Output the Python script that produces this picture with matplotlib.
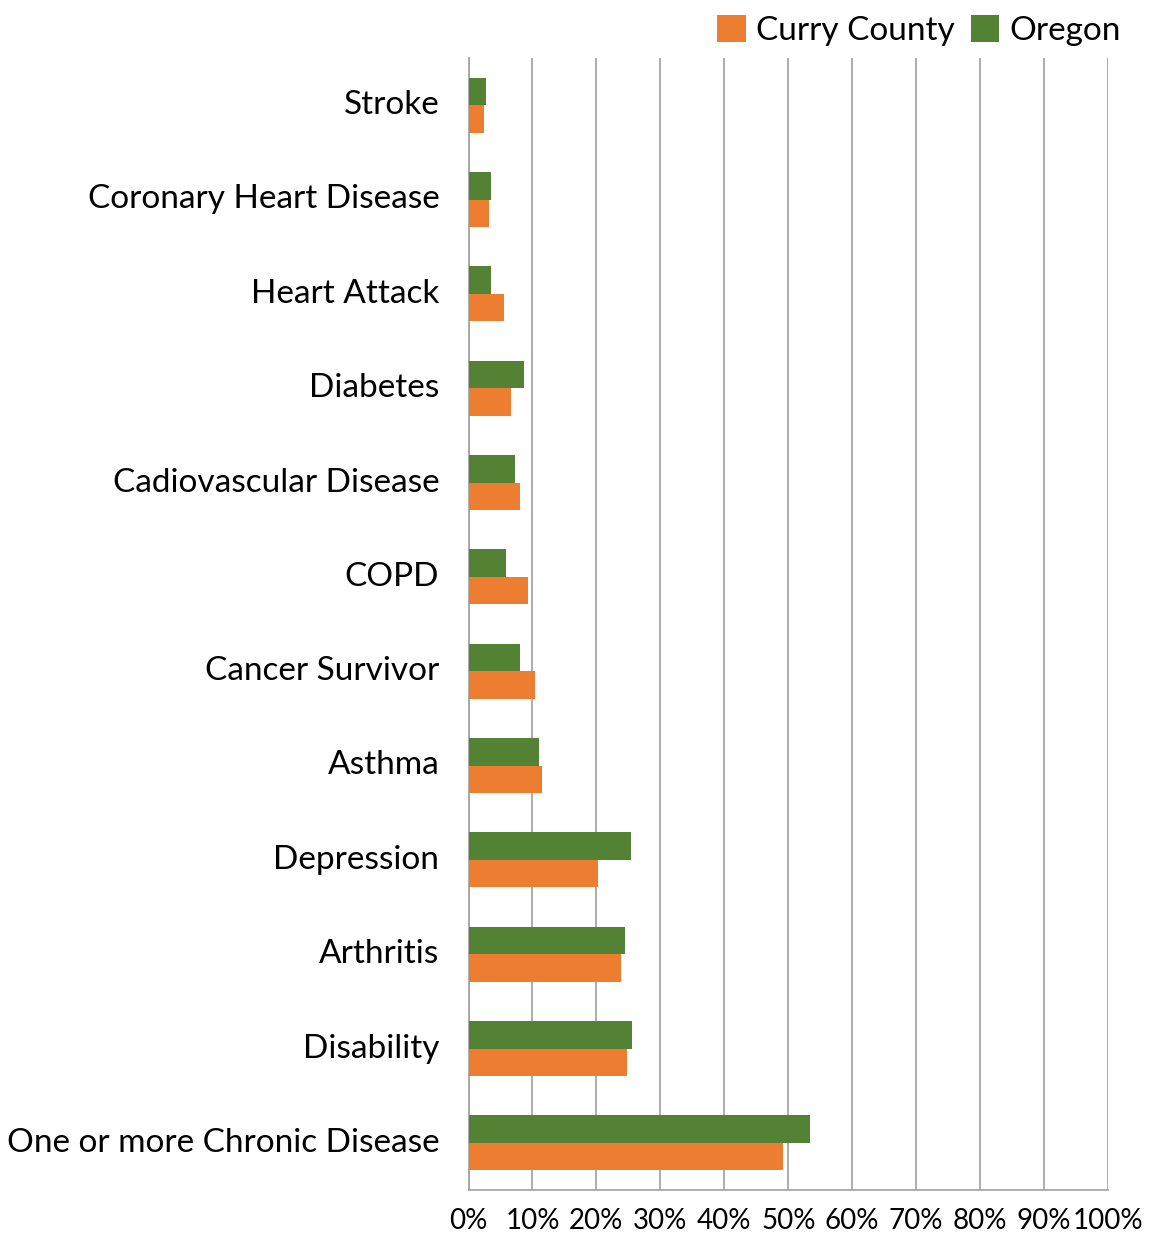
import matplotlib
matplotlib.use("Agg")
import matplotlib.pyplot as plt
import numpy as np
from matplotlib.ticker import MultipleLocator, PercentFormatter

categories = ["Stroke", "Coronary Heart Disease", "Heart Attack", "Diabetes",
              "Cadiovascular Disease", "COPD", "Cancer Survivor", "Asthma",
              "Depression", "Arthritis", "Disability", "One or more Chronic Disease"]
curry = [2.4, 3.2, 5.5, 6.6, 8.1, 9.3, 10.4, 11.5, 20.2, 23.8, 24.8, 49.2]
oregon = [2.7, 3.5, 3.5, 8.7, 7.3, 5.9, 8.0, 11.0, 25.4, 24.5, 25.6, 53.4]
series_names = ["Curry County", "Oregon"]
colors = ["#ED7D31", "#548235"]

plt.rcParams['font.family'] = ['Lato', 'DejaVu Sans']

W, H = 1151, 1235
fig = plt.figure(figsize=(W / 100, H / 100), dpi=100)
ax = fig.add_axes([468.5 / W, 1 - 1190 / H, (1108 - 468.5) / W, (1190 - 58) / H])

y = np.arange(len(categories))
bh = 0.29
ax.barh(y + bh / 2, curry, height=bh, color=colors[0], label=series_names[0], zorder=3)
ax.barh(y - bh / 2, oregon, height=bh, color=colors[1], label=series_names[1], zorder=3)

ax.set_ylim(len(categories) - 0.5, -0.5)
ax.set_xlim(0, 100)
ax.xaxis.set_major_locator(MultipleLocator(10))
ax.xaxis.set_major_formatter(PercentFormatter(decimals=0))
ax.set_yticks(y)
ax.set_yticklabels(categories, fontsize=24, va='center')
ax.tick_params(axis='y', length=0, pad=21)
ax.tick_params(axis='x', length=0, pad=13, labelsize=20)
ax.grid(axis='x', color='#A6A6A6', linewidth=1.3, zorder=0)
for s in ['top', 'right']:
    ax.spines[s].set_visible(False)
for s in ['left', 'bottom']:
    ax.spines[s].set_color('#A6A6A6')
    ax.spines[s].set_linewidth(1.3)

handles, labels = ax.get_legend_handles_labels()
fig.legend(handles, labels, loc='upper right', bbox_to_anchor=(1134 / W, 1 - 2 / H),
           ncol=2, frameon=False, fontsize=24, handlelength=0.85, handleheight=0.85,
           handletextpad=0.3, columnspacing=0.5, borderaxespad=0)

fig.savefig("out.png", dpi=100)
